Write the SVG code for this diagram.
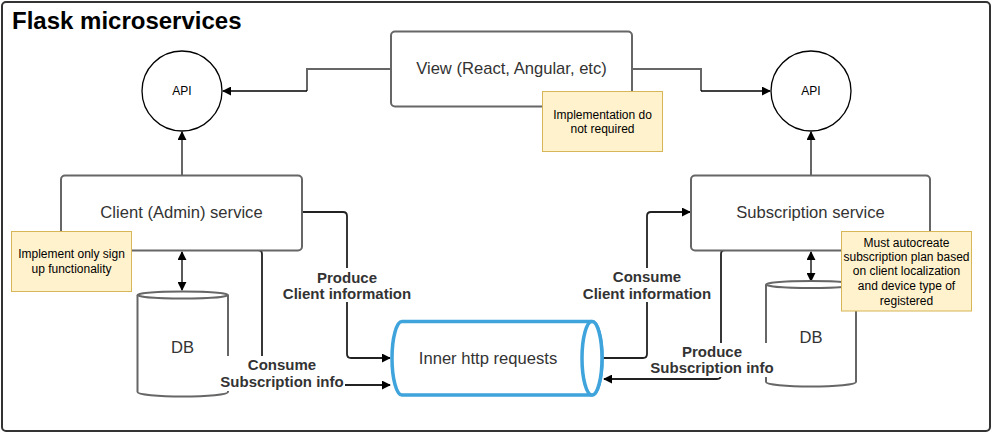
<svg xmlns="http://www.w3.org/2000/svg" width="993" height="433" viewBox="0 0 993 433">
<defs>
<marker id="ah" viewBox="0 0 10 10" refX="9" refY="5" markerWidth="9" markerHeight="9" markerUnits="userSpaceOnUse" orient="auto-start-reverse">
<path d="M0,0 L10,5 L0,10 Z" fill="#000"/>
</marker>
<style>
.box{fill:#fff;stroke:#666;stroke-width:2}
.note{fill:#fff2cc;stroke:#d6b656;stroke-width:1}
.circ{fill:#fff;stroke:#000;stroke-width:1.3}
.nt{font-family:"Liberation Sans",Arial,sans-serif;font-size:16.6px;fill:#333;text-anchor:middle}
.st{font-family:"Liberation Sans",Arial,sans-serif;font-size:12px;fill:#000;text-anchor:middle}
.lt{font-family:"Liberation Sans",Arial,sans-serif;font-size:15px;font-weight:bold;fill:#333;text-anchor:middle}
.g{fill:none;stroke:#666;stroke-width:2}
.k{fill:none;stroke:#000;stroke-width:1.3}
.c{fill:none;stroke:#222;stroke-width:1.8}
</style>
</defs>
<rect x="2" y="2" width="988" height="429" rx="4" fill="#fff" stroke="#333" stroke-width="2"/>
<text x="12" y="29" font-family="'Liberation Sans',Arial,sans-serif" font-size="24" font-weight="bold" fill="#000">Flask microservices</text>

<g id="connectors">
<path class="g" d="M391,69 H307 V91"/>
<path class="k" d="M307,91 H223" marker-end="url(#ah)"/>
<path class="g" d="M632,69 H701 V91"/>
<path class="k" d="M701,91 H770" marker-end="url(#ah)"/>
<path class="g" d="M182,175 V138"/>
<path class="k" d="M182,139 V132" marker-end="url(#ah)"/>
<path class="g" d="M811,175 V138"/>
<path class="k" d="M811,139 V132" marker-end="url(#ah)"/>
<path class="k" d="M182,252 V290" marker-start="url(#ah)" marker-end="url(#ah)"/>
<path class="k" d="M811,252 V281" marker-start="url(#ah)" marker-end="url(#ah)"/>
<path class="c" d="M302,212 H343 Q347,212 347,216 V354 Q347,358 351,358 H390" marker-end="url(#ah)"/>
<path class="c" d="M242,250 H258 Q262,250 262,254 V381 Q262,385 266,385 H390" marker-end="url(#ah)"/>
<path class="c" d="M603,358 H643 Q647,358 647,354 V216 Q647,212 651,212 H690" marker-end="url(#ah)"/>
<path class="c" d="M751,250 H725 Q721,250 721,254 V375 Q721,379 717,379 H604" marker-end="url(#ah)"/>
</g>

<g id="api-left">
<circle class="circ" cx="182" cy="91" r="40"/>
<text class="st" x="182" y="95" fill="#333">API</text>
</g>
<g id="api-right">
<circle class="circ" cx="811" cy="91" r="40"/>
<text class="st" x="811" y="95">API</text>
</g>

<g id="view">
<rect class="box" x="391" y="31.5" width="241" height="75" rx="4"/>
<text class="nt" x="511.5" y="74">View (React, Angular, etc)</text>
</g>
<g id="note-view">
<rect class="note" x="542.5" y="91.5" width="120" height="60"/>
<text class="st" x="602.5" y="118.5">Implementation do</text>
<text class="st" x="602.5" y="133">not required</text>
</g>

<g id="client-service">
<rect class="box" x="61" y="175.5" width="241" height="75" rx="4"/>
<text class="nt" x="181.5" y="218">Client (Admin) service</text>
</g>
<g id="subscription-service">
<rect class="box" x="691" y="175.5" width="239" height="75" rx="4"/>
<text class="nt" x="810.5" y="218">Subscription service</text>
</g>

<g id="note-client">
<rect class="note" x="11.5" y="231.5" width="120" height="60"/>
<text class="st" x="71.5" y="257.5">Implement only sign</text>
<text class="st" x="71.5" y="273">up functionality</text>
</g>

<g id="db-left">
<path d="M137.5,295 V392 A45.25,4.5 0 0 0 228,392 V295" fill="#fff" stroke="#666" stroke-width="2"/>
<ellipse cx="182.75" cy="295" rx="45.25" ry="3.5" fill="#fff" stroke="#666" stroke-width="2"/>
<text class="nt" x="182.5" y="353">DB</text>
</g>
<g id="db-right">
<path d="M766,284.5 V382 A45,4.5 0 0 0 856,382 V284.5" fill="#fff" stroke="#666" stroke-width="2"/>
<ellipse cx="811" cy="284.5" rx="45" ry="3.5" fill="#fff" stroke="#666" stroke-width="2"/>
<text class="nt" x="811" y="342.5">DB</text>
</g>

<g id="note-subscription">
<rect class="note" x="841.5" y="231.5" width="130" height="79.5"/>
<text class="st" x="906.5" y="246.5">Must autocreate</text>
<text class="st" x="906.5" y="261">subscription plan based</text>
<text class="st" x="906.5" y="275.3">on client localization</text>
<text class="st" x="906.5" y="290">and device type of</text>
<text class="st" x="906.5" y="304.5">registered</text>
</g>

<g id="inner-http">
<path d="M402,321.5 H592 A10,36.75 0 0 1 592,395 H402 A10,36.75 0 0 1 402,321.5 Z" fill="#fff" stroke="#3fa3dc" stroke-width="3.5"/>
<ellipse cx="592" cy="358.25" rx="10" ry="36.75" fill="#fff" stroke="#3fa3dc" stroke-width="3.5"/>
<text class="nt" x="488" y="364">Inner http requests</text>
</g>

<g id="labels">
<rect x="283" y="268" width="128" height="34" fill="#fff"/>
<text class="lt" x="347" y="282.5">Produce</text>
<text class="lt" x="347" y="299">Client information</text>
<rect x="221" y="356" width="124" height="35" fill="#fff"/>
<text class="lt" x="282" y="370">Consume</text>
<text class="lt" x="282" y="386.5">Subscription info</text>
<rect x="583" y="268" width="128" height="34" fill="#fff"/>
<text class="lt" x="647" y="282">Consume</text>
<text class="lt" x="647" y="298.5">Client information</text>
<rect x="651" y="343" width="124" height="34" fill="#fff"/>
<text class="lt" x="712" y="356.5">Produce</text>
<text class="lt" x="712" y="373">Subscription info</text>
</g>
</svg>
